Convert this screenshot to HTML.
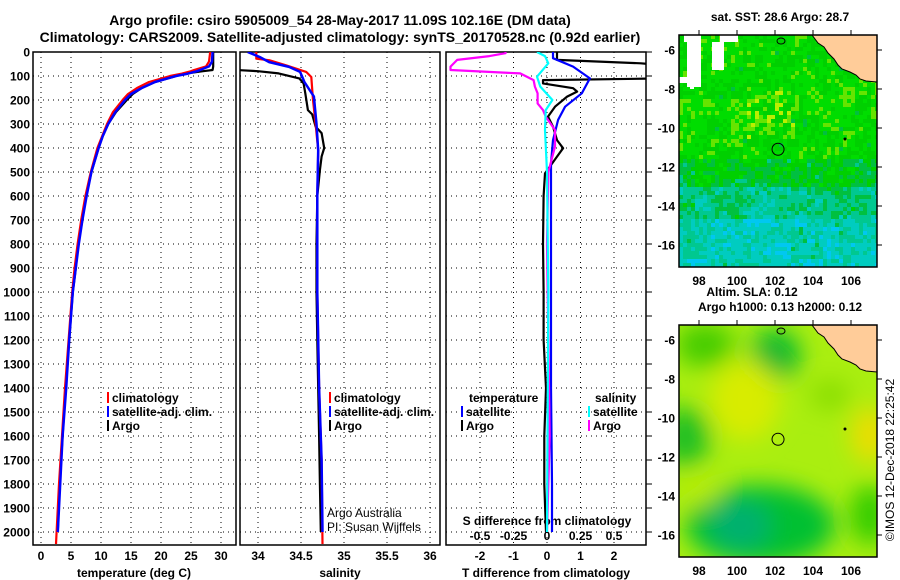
<!DOCTYPE html>
<html><head><meta charset="utf-8">
<style>
body{margin:0;background:#fff;}
svg{display:block;font-family:"Liberation Sans",Arial,sans-serif;}
.t{font-weight:bold;font-size:12px;}
.h{font-weight:bold;font-size:14px;}
</style></head>
<body>
<svg id="fig" width="900" height="580" viewBox="0 0 900 580" xmlns="http://www.w3.org/2000/svg">
<defs>
<clipPath id="c1"><rect x="33" y="52" width="203" height="493"/></clipPath>
<clipPath id="c2"><rect x="240" y="52" width="200" height="493"/></clipPath>
<clipPath id="c3"><rect x="446" y="52" width="200" height="493"/></clipPath>
<clipPath id="m1"><rect x="679" y="35" width="198" height="232"/></clipPath>
<clipPath id="m2"><rect x="679" y="325" width="198" height="232"/></clipPath>
<filter id="blur" x="-50%" y="-50%" width="200%" height="200%"><feGaussianBlur stdDeviation="12"/></filter>
</defs>
<text class="h" x="340" y="25" text-anchor="middle">Argo profile: csiro 5905009_54 28-May-2017 11.09S 102.16E (DM data)</text>
<text class="h" x="340" y="42" text-anchor="middle">Climatology: CARS2009. Satellite-adjusted climatology: synTS_20170528.nc (0.92d earlier)</text>
<g id="plots"></g>
<g id="maps"></g>
</svg>
<script>
// ---- data ----
const depthTicks=[0,100,200,300,400,500,600,700,800,900,1000,1100,1200,1300,1400,1500,1600,1700,1800,1900,2000];
const tempTicks=[0,5,10,15,20,25,30];
const salTicks=[34,34.5,35,35.5,36];
const salTickLabels=["34","34.5","35","35.5","36"];
const tdiffTicks=[-2,-1,0,1,2];
const sdiffTicks=[-0.5,-0.25,0,0.25,0.5];
const sdiffTickLabels=["-0.5","-0.25","0","0.25","0.5"];

const argoTDepth=[0,40,60,75,80,90,100,125,150,175,200,250,300,350,400,500,600,700,800,900,1000,1200,1400,1600,1800,2000];
const argoT=[28.7,28.7,28.7,28.6,27,24,22.5,19,16.8,15.3,14.3,12.5,11.2,10.3,9.6,8.4,7.5,6.9,6.2,5.8,5.3,4.7,4.1,3.6,3.1,2.8];
const climTDepth=[0,40,60,75,80,90,100,125,150,175,200,250,300,350,400,500,600,700,800,900,1000,1200,1400,1600,1800,2000,2050];
const climT=[28.2,28.0,27.5,25.5,25,23.5,21.5,18,16,14.5,13.6,12,11,10.2,9.4,8.3,7.4,6.7,6.1,5.6,5.2,4.6,4.0,3.5,3.0,2.6,2.5];
const satTDepth=[0,40,60,75,80,90,100,125,150,175,200,250,300,350,400,500,600,700,800,900,1000,1200,1400,1600,1800,2000];
const satT=[28.6,28.5,28.0,26.5,26,24.5,22.5,19,16.8,15,14,12.4,11.2,10.3,9.6,8.4,7.6,6.9,6.3,5.8,5.3,4.7,4.2,3.6,3.2,2.8];

const argoSDepth=[0,70,75,80,89,110,131,172,242,260,311,338,400,436,492,600,800,1000,1200,1400,1600,1800,2000];
const argoS=[33.5,33.5,33.75,34.0,34.24,34.48,34.53,34.55,34.58,34.63,34.67,34.74,34.77,34.74,34.72,34.69,34.68,34.68,34.69,34.7,34.71,34.72,34.73];
const climSDepth=[0,28,35,56,83,104,200,300,410,600,1000,1400,1700,2050];
const climS=[33.98,33.98,34.14,34.33,34.56,34.62,34.64,34.67,34.7,34.69,34.69,34.71,34.74,34.75];
const satSDepth=[0,21,42,62,83,125,186,300,410,600,1000,1400,1700,2000];
const satS=[33.88,34.02,34.13,34.36,34.49,34.54,34.65,34.68,34.7,34.69,34.69,34.71,34.74,34.75];

const argoTdDepth=[0,33,47,55,110,117,131,151,165,186,228,269,311,367,401,436,506,600,800,1000,1200,1400,1600,1800,2000];
const argoTd=[0.3,0.3,2.8,3.5,3.5,-0.12,-0.12,0.78,0.9,0.6,0.24,0.03,0.18,0.3,0.48,0.3,-0.06,-0.1,-0.12,-0.1,-0.1,-0.03,-0.08,-0.08,-0.03];
const satTdDepth=[0,26,61,110,172,228,283,367,464,600,1000,1400,1800,2000];
const satTd=[0.18,0.18,0.78,1.28,1.04,0.54,0.33,0.18,0.12,0.12,0.12,0.12,0.15,0.15];
const argoSdDepth=[0,5,17,33,61,75,89,117,144,172,214,242,269,325,394,436,500,800,1200,1600,2000];
const argoSd=[-0.31,-0.31,-0.43,-0.67,-0.72,-0.72,-0.2,-0.1,-0.09,-0.07,-0.07,-0.03,-0.01,0.06,0.06,0.04,0.01,0.0,0.01,0.02,0.0];
const satSdDepth=[0,17,47,103,144,200,242,325,500,1000,2000];
const satSd=[-0.075,-0.015,0.01,-0.075,-0.05,0.04,-0.01,-0.015,0.0,0.01,0.0];

const lonTicks=[98,100,102,104,106];
const latTicks=[-6,-8,-10,-12,-14,-16];

// ---- axes ----
const NS="http://www.w3.org/2000/svg";
const yD=d=>52+0.24*d;
const xT=v=>41+6*v;
const xS=v=>258+86*(v-34);
const xTd=v=>547+33.5*v;
const xSd=v=>547+134*v;
const lonX=l=>699+(l-98)*19;
const latY=(l,top)=>top+15+(-6-l)*19.5;

function el(tag,parent){const e=document.createElementNS(NS,tag);parent.appendChild(e);return e;}
const P=document.getElementById('plots');
const M=document.getElementById('maps');

const panels=[{x0:33,x1:236,clip:'c1',name:'temperature'},{x0:240,x1:440,clip:'c2',name:'salinity'},{x0:446,x1:646,clip:'c3',name:'difference'}];

panels.forEach((p,i)=>{
  const g=el('g',P);
  
  
  depthTicks.forEach(d=>{
    const l=el('line',g);
    l.setAttribute('x1',p.x0);l.setAttribute('x2',p.x1);l.setAttribute('y1',yD(d));l.setAttribute('y2',yD(d));
    l.setAttribute('stroke','#000');l.setAttribute('stroke-width','1');l.setAttribute('stroke-dasharray','1,4');
    
    
  });
  let xs=i==0?tempTicks.map(xT):i==1?salTicks.map(xS):tdiffTicks.map(xTd);
  xs.forEach(x=>{
    const l=el('line',g);
    l.setAttribute('x1',x);l.setAttribute('x2',x);l.setAttribute('y1',52);l.setAttribute('y2',545);
    l.setAttribute('stroke','#000');l.setAttribute('stroke-width','1');l.setAttribute('stroke-dasharray','1,4');
    
    
  });
  const f=el('rect',g);
  f.setAttribute('x',p.x0);f.setAttribute('y',52);f.setAttribute('width',p.x1-p.x0);f.setAttribute('height',493);
  f.setAttribute('fill','none');f.setAttribute('stroke','#000');f.setAttribute('stroke-width','1.5');
  
  
});

depthTicks.forEach(d=>{
  const t=el('text',P);
  t.setAttribute('class','t');t.setAttribute('x',30);t.setAttribute('y',yD(d)+4.5);t.setAttribute('text-anchor','end');
  t.textContent=String(d);
  
  
  const k=el('line',P);
  k.setAttribute('x1',646);k.setAttribute('x2',652);k.setAttribute('y1',yD(d));k.setAttribute('y2',yD(d));k.setAttribute('stroke','#000');
  
  
});
function xlabels(vals,labels,fx,y){
  vals.forEach((v,i)=>{
    const t=el('text',P);
    t.setAttribute('class','t');t.setAttribute('x',fx(v));t.setAttribute('y',y);t.setAttribute('text-anchor','middle');
    t.textContent=labels[i];
    
    
  });
}
xlabels(tempTicks,tempTicks.map(String),xT,560);
xlabels(salTicks,salTickLabels,xS,560);
xlabels(tdiffTicks,tdiffTicks.map(String),xTd,560);
xlabels(sdiffTicks,sdiffTickLabels,xSd,540);

function txt(x,y,s,name,cls,anchor,extra){
  const t=el('text',P);
  t.setAttribute('class',cls||'t');t.setAttribute('x',x);t.setAttribute('y',y);
  if(anchor)t.setAttribute('text-anchor',anchor);
  if(extra)t.setAttribute('style',extra);
  t.textContent=s;
  
  
  return t;
}
txt(134,577,'temperature (deg C)','temperature-axis-title','t','middle');
txt(340,577,'salinity','salinity-axis-title','t','middle');
txt(546,577,'T difference from climatology','t-difference-axis-title','t','middle');
txt(547,525,'S difference from climatology','s-difference-axis-title','t','middle');
txt(327,517,'Argo Australia','credit-argo-australia','t','start','font-weight:normal');
txt(327,531,'PI: Susan Wijffels','credit-pi','t','start','font-weight:normal');

function series(depths,vals,fx,color,clip,name,w){
  let d='';
  depths.forEach((z,i)=>{d+=(i?'L':'M')+fx(vals[i]).toFixed(1)+','+yD(z).toFixed(1);});
  const p=el('path',P);
  p.setAttribute('d',d);p.setAttribute('fill','none');p.setAttribute('stroke',color);p.setAttribute('stroke-width',w||2);
  p.setAttribute('clip-path','url(#'+clip+')');p.setAttribute('stroke-linejoin','round');
  
  
}
series(argoTDepth,argoT,xT,'#000','c1','argo-temperature-line',2.2);
series(climTDepth,climT,xT,'#f00','c1','climatology-temperature-line',2.2);
series(satTDepth,satT,xT,'#00f','c1','satellite-temperature-line',2.5);
series(argoSDepth,argoS,xS,'#000','c2','argo-salinity-line',2.2);
series(climSDepth,climS,xS,'#f00','c2','climatology-salinity-line',2.2);
series(satSDepth,satS,xS,'#00f','c2','satellite-salinity-line',2.5);
series(argoTdDepth,argoTd,xTd,'#000','c3','argo-t-difference-line',2.2);
series(satTdDepth,satTd,xTd,'#00f','c3','satellite-t-difference-line',2.2);
series(argoSdDepth,argoSd,xSd,'#f0f','c3','argo-s-difference-line',2.2);
series(satSdDepth,satSd,xSd,'#0ff','c3','satellite-s-difference-line',2.2);

function leg(x,y,color,label,name){
  const r=el('rect',P);
  r.setAttribute('x',x);r.setAttribute('y',y-10);r.setAttribute('width',2);r.setAttribute('height',11);r.setAttribute('fill',color);
  
  
  txt(x+5,y,label,name+'-label');
}
leg(107,402,'#f00','climatology','legend-t-climatology');
leg(107,416,'#00f','satellite-adj. clim.','legend-t-satellite');
leg(107,430,'#000','Argo','legend-t-argo');
leg(329,402,'#f00','climatology','legend-s-climatology');
leg(329,416,'#00f','satellite-adj. clim.','legend-s-satellite');
leg(329,430,'#000','Argo','legend-s-argo');
txt(469,402,'temperature','legend-diff-temperature-heading');
leg(461,416,'#00f','satellite','legend-diff-t-satellite');
leg(461,430,'#000','Argo','legend-diff-t-argo');
txt(595,402,'salinity','legend-diff-salinity-heading');
leg(588,416,'#0ff','satellite','legend-diff-s-satellite');
leg(588,430,'#f0f','Argo','legend-diff-s-argo');

// ---- maps ----
function hash(i,j,s){let h=(i*374761393+j*668265263+s*1442695041)|0;h=(h^(h>>>13))*1274126177|0;return ((h^(h>>>16))>>>0)/4294967295;}
const sstPal=['#0070ff','#00a0ff','#00c8f0','#00ccc0','#00c890','#00c040','#00d000','#00dd00','#66e400','#bbee00','#ffcc00'];
function mapFrame(top,title,clip,idx){
  const g=el('g',M);
  
  
  const cg=el('g',g);cg.setAttribute('clip-path','url(#'+clip+')');
  if(idx==1){
    for(let i=0;i<50;i++)for(let j=0;j<58;j++){
      const y=top+j*4, lat=-6-(y-top-15)/19.5;
      let base=lat>-11.5?6.8:lat>-13?5.6:lat>-14.5?4.2:3.2;
      let v=base+(hash(i,j,1)-0.5)*1.8+(hash(i>>2,j>>2,2)-0.5)*1.2;
      if(lat<-8&&lat>-10.5&&i>16&&i<30&&hash(i,j,3)>0.6)v+=1.5;
      v=Math.max(0,Math.min(10,Math.round(v)));
      const r=el('rect',cg);
      r.setAttribute('x',679+i*4);r.setAttribute('y',y);r.setAttribute('width',4);r.setAttribute('height',4);r.setAttribute('fill',sstPal[v]);
      
      
    }
    [[684,35,14,7],[720,35,18,7],[687,35,14,52],[712,42,12,28],[679,77,22,6],[690,77,4,12]].forEach(a=>{
      const r=el('rect',cg);r.setAttribute('x',a[0]);r.setAttribute('y',a[1]);r.setAttribute('width',a[2]);r.setAttribute('height',a[3]);r.setAttribute('fill','#fff');
      
      
    });
  } else {
    const bg=el('rect',cg);bg.setAttribute('x',679);bg.setAttribute('y',top);bg.setAttribute('width',198);bg.setAttribute('height',232);bg.setAttribute('fill','#aaee10');
    
    
    const bl=el('g',cg);bl.setAttribute('filter','url(#blur)');
    [[705,top+20,30,22,'#44cc00'],[775,top+30,25,25,'#00b830'],[685,top+112,25,30,'#22c020'],[760,top+200,75,40,'#00c030'],[740,top+200,30,25,'#00b070'],[870,top+190,20,30,'#33cc00'],[745,top+75,35,40,'#d8ec00'],[870,top+110,18,28,'#eedd00'],[700,top+165,18,15,'#bbee00'],[830,top+70,20,15,'#88dd00']].forEach(a=>{
      const e=el('ellipse',bl);e.setAttribute('cx',a[0]);e.setAttribute('cy',a[1]);e.setAttribute('rx',a[2]);e.setAttribute('ry',a[3]);e.setAttribute('fill',a[4]);
      
      
    });
  }
  const pts=[[812,top],[818,top+8],[824,top+12],[828,top+18],[834,top+24],[838,top+30],[842,top+34],[850,top+37],[856,top+40],[860,top+44],[866,top+46],[877,top+47],[877,top]];
  const land=el('polygon',cg);
  land.setAttribute('points',pts.map(p=>p.join(',')).join(' '));
  land.setAttribute('fill','#ffcc99');land.setAttribute('stroke','#000');land.setAttribute('stroke-width','1');
  
  
  const isl=el('ellipse',cg);isl.setAttribute('cx',781);isl.setAttribute('cy',top+6);isl.setAttribute('rx',4);isl.setAttribute('ry',3);isl.setAttribute('fill','none');isl.setAttribute('stroke','#000');
  
  
  const isl2=el('circle',cg);isl2.setAttribute('cx',845);isl2.setAttribute('cy',top+104);isl2.setAttribute('r',1.5);isl2.setAttribute('fill','#000');
  
  
  const c=el('circle',g);c.setAttribute('cx',lonX(102.16));c.setAttribute('cy',latY(-11.09,top));c.setAttribute('r',6);c.setAttribute('fill','none');c.setAttribute('stroke','#000');
  
  
  const f=el('rect',g);f.setAttribute('x',679);f.setAttribute('y',top);f.setAttribute('width',198);f.setAttribute('height',232);f.setAttribute('fill','none');f.setAttribute('stroke','#000');f.setAttribute('stroke-width','1.5');
  
  
  lonTicks.forEach(l=>{
    const t=el('text',g);t.setAttribute('class','t');t.setAttribute('x',lonX(l));t.setAttribute('y',top+250);t.setAttribute('text-anchor','middle');t.textContent=String(l);
    
    
    const k=el('line',g);k.setAttribute('x1',lonX(l));k.setAttribute('x2',lonX(l));k.setAttribute('y1',top-5);k.setAttribute('y2',top);k.setAttribute('stroke','#000');
    
    
  });
  latTicks.forEach(l=>{
    const t=el('text',g);t.setAttribute('class','t');t.setAttribute('x',675);t.setAttribute('y',latY(l,top)+4.5);t.setAttribute('text-anchor','end');t.textContent=String(l);
    
    
    const k=el('line',g);k.setAttribute('x1',877);k.setAttribute('x2',882);k.setAttribute('y1',latY(l,top));k.setAttribute('y2',latY(l,top));k.setAttribute('stroke','#000');
    
    
  });
  title.forEach((s,i)=>{
    const t=el('text',g);t.setAttribute('class','t');t.setAttribute('x',i==0&&idx==2?752:780);t.setAttribute('y',top-(title.length-i)*15+1);t.setAttribute('text-anchor','middle');t.textContent=s;
    
    
  });
}
mapFrame(35,['sat. SST: 28.6 Argo: 28.7'],'m1',1);
mapFrame(325,['Altim. SLA: 0.12','Argo h1000: 0.13 h2000: 0.12'],'m2',2);
const stamp=el('text',M);
stamp.setAttribute('x',894);stamp.setAttribute('y',460);stamp.setAttribute('text-anchor','middle');
stamp.setAttribute('transform','rotate(-90 894 460)');stamp.setAttribute('style','font-size:12px');
stamp.textContent='©IMOS 12-Dec-2018 22:25:42';


</script>
</body></html>
